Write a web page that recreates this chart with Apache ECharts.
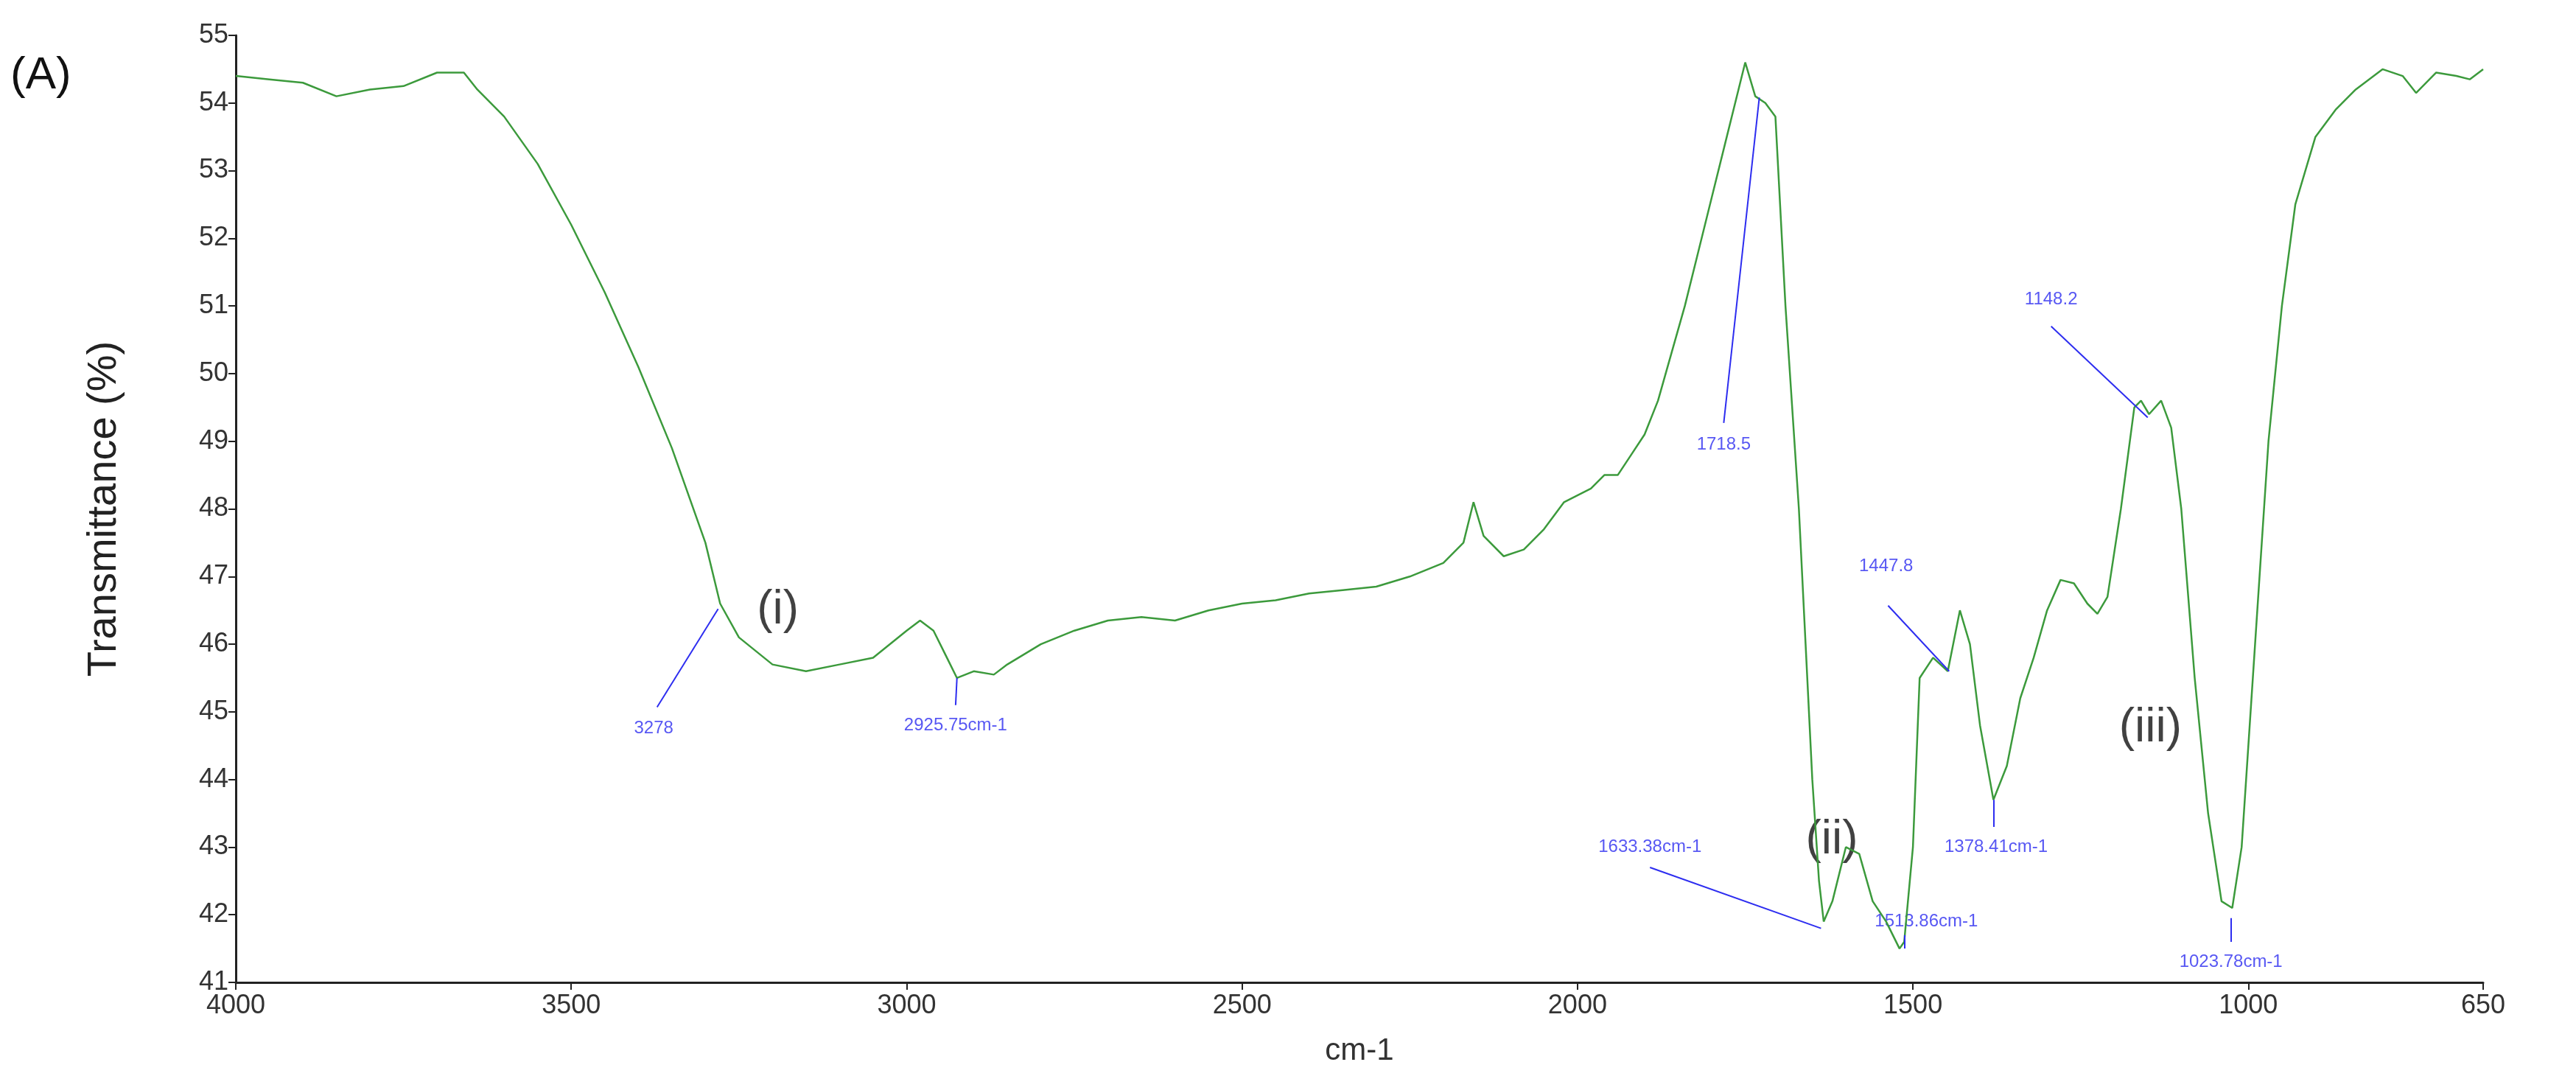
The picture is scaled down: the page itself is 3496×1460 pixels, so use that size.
<!DOCTYPE html>
<html><head><meta charset="utf-8">
<script src="https://cdn.jsdelivr.net/npm/echarts@6/dist/echarts.min.js"></script>
<style>html,body{margin:0;padding:0;background:#fff}#c{width:3496px;height:1460px}</style>
</head><body><div id="c"></div>
<script>
const wavenumbers=[4000,3950,3900,3850,3800,3750,3700,3660,3640,3600,3550,3500,3450,3400,3350,3300,3278,3250,3200,3150,3100,3050,3000,2980,2960,2940,2925,2900,2870,2850,2800,2750,2700,2650,2600,2550,2500,2450,2400,2350,2300,2250,2200,2170,2155,2140,2110,2080,2050,2020,2000,1980,1960,1940,1920,1900,1880,1860,1840,1820,1800,1780,1760,1750,1735,1720,1705,1690,1670,1660,1650,1640,1633,1620,1600,1580,1560,1540,1520,1513,1500,1490,1470,1448,1430,1415,1400,1380,1360,1340,1320,1300,1280,1260,1240,1225,1210,1190,1170,1160,1148,1130,1115,1100,1080,1060,1040,1024,1010,990,970,950,930,900,870,840,800,770,750,720,690,670,650];
const transmittance=[54.4,54.35,54.3,54.1,54.2,54.25,54.45,54.45,54.2,53.8,53.1,52.2,51.2,50.1,48.9,47.5,46.6,46.1,45.7,45.6,45.7,45.8,46.2,46.35,46.2,45.8,45.5,45.6,45.55,45.7,46.0,46.2,46.35,46.4,46.35,46.5,46.6,46.65,46.75,46.8,46.85,47.0,47.2,47.5,48.1,47.6,47.3,47.4,47.7,48.1,48.2,48.3,48.5,48.5,48.8,49.1,49.6,50.3,51.0,51.8,52.6,53.4,54.2,54.6,54.1,54.0,53.8,51,48,46,44,42.5,41.9,42.2,43.0,42.9,42.2,41.9,41.5,41.6,43.0,45.5,45.8,45.6,46.5,46.0,44.8,43.7,44.2,45.2,45.8,46.5,46.95,46.9,46.6,46.45,46.7,48.0,49.5,49.6,49.4,49.6,49.2,48,45.5,43.5,42.2,42.1,43.0,46,49,51,52.5,53.5,53.9,54.2,54.5,54.4,54.15,54.45,54.4,54.35,54.5];
const xTicks=[4000,3500,3000,2500,2000,1500,1000,650];
const peakTexts=['3278','2925.75cm-1','1718.5','1447.8','1378.41cm-1','1633.38cm-1','1513.86cm-1','1023.78cm-1','1148.2'];
const peakFrom=[[3281,46.52],[2925,45.5],[1729,54.08],[1446,45.6],[1380,43.7],[1637,41.8],[1513,41.5],[1026,41.95],[1150,49.35]];
const peakTo=[[3372,45.07],[2927,45.1],[1782,49.27],[1537,46.57],[1380,43.3],[1892,42.7],[1513,41.7],[1026,41.6],[1294,50.7]];
const peakLabelPos=[[3377,44.75],[2927,44.8],[1782,48.95],[1540,47.15],[1376,43.0],[1892,43.0],[1480,41.9],[1026,41.3],[1294,51.1]];
const regionTexts=['(i)','(ii)','(iii)'];
const regionPos=[[3192,46.5],[1621,43.1],[1146,44.75]];

const chart=echarts.init(document.getElementById('c'));
const font='Arial, "Liberation Sans", sans-serif';
chart.setOption({
  animation:false,
  grid:{left:320,right:126,top:48,bottom:127},
  xAxis:{type:'value',inverse:true,min:650,max:4000,
    name:'cm-1',nameLocation:'middle',nameGap:72,nameTextStyle:{fontSize:42,color:'#333',fontFamily:font},
    axisLine:{lineStyle:{color:'#222',width:3}},
    axisTick:{customValues:xTicks,length:10,lineStyle:{color:'#222',width:2}},
    axisLabel:{customValues:xTicks,formatter:v=>String(v),fontSize:36,color:'#333',fontFamily:font,margin:14},
    splitLine:{show:false}},
  yAxis:{type:'value',min:41,max:55,interval:1,
    name:'Transmittance (%)',nameLocation:'middle',nameGap:150,nameTextStyle:{fontSize:56,color:'#222',fontFamily:font},
    axisLine:{show:true,lineStyle:{color:'#222',width:3}},
    axisTick:{show:true,length:10,lineStyle:{color:'#222',width:2}},
    axisLabel:{fontSize:36,color:'#333',fontFamily:font,margin:10},
    splitLine:{show:false}},
  graphic:[{type:'text',left:14,top:72,style:{text:'(A)',fontSize:62,fill:'#111',fontFamily:font}}],
  series:[
    {type:'line',data:wavenumbers.map((w,i)=>[w,transmittance[i]]),symbol:'none',
     lineStyle:{color:'#3c9a3c',width:2.5},z:3,
     markLine:{symbol:'none',silent:true,label:{show:false},lineStyle:{color:'#2d2df0',width:2,type:'solid'},
       data:peakFrom.map((p,i)=>[{coord:p},{coord:peakTo[i]}])}},
    {type:'scatter',symbolSize:0,data:peakLabelPos.map((p,i)=>({value:p,name:peakTexts[i]})),
     label:{show:true,position:'inside',formatter:p=>p.name,fontSize:24,color:'#2d2df0',fontFamily:font}},
    {type:'scatter',symbolSize:0,data:regionPos.map((p,i)=>({value:p,name:regionTexts[i]})),
     label:{show:true,position:'inside',formatter:p=>p.name,fontSize:64,color:'#111',fontFamily:font}}
  ]
});
</script></body></html>
